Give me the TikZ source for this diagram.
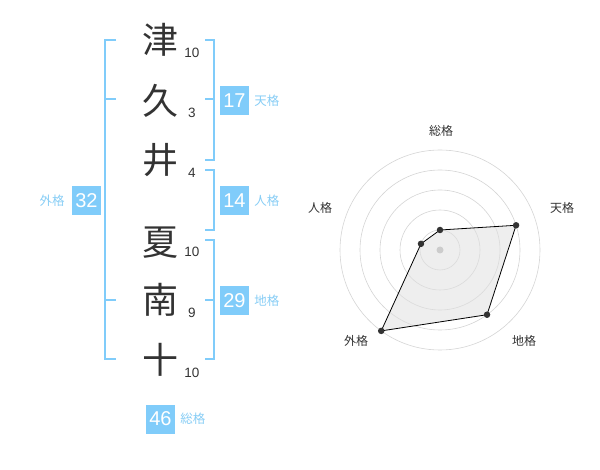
\documentclass[tikz,border=0pt]{standalone}
\usepackage{fontspec}
\setmainfont{Liberation Sans}
\newfontfamily\jpfont{Noto Sans CJK JP}
\usetikzlibrary{positioning}
\definecolor{kakublue}{RGB}{128,204,250}
\definecolor{kakutext}{RGB}{135,205,245}
\definecolor{inkgray}{RGB}{51,51,51}
\tikzset{%
    kanji/.style={font=\jpfont\fontsize{36}{36}\selectfont, text=inkgray, inner sep=0pt},
    strokes/.style={font=\fontsize{13.5}{13.5}\selectfont, text=inkgray, inner sep=0pt},
    kakubox/.style={fill=kakublue, text=white, minimum size=29pt, inner sep=0pt, font=\fontsize{20}{20}\selectfont},
    kakulabel/.style={text=kakutext, font=\jpfont\fontsize{12.5}{12.5}\selectfont, inner sep=0pt},
    bracket/.style={draw=kakublue, line width=2pt},
    axislabel/.style={text=inkgray, font=\jpfont\fontsize{12}{12}\selectfont, inner sep=0pt},
    ring/.style={draw=black!17, line width=0.6pt},
    dot/.style={circle, fill=inkgray, inner sep=0pt, minimum size=6.5pt}
}

\begin{document}
\begin{tikzpicture}[x=1pt, y=-1pt]
    \useasboundingbox (0,0) rectangle (600,470);

    % name, one character per row
    \node[kanji] (tsu) at (160,40) {津};
    \node[kanji] (ku) at (160,101) {久};
    \node[kanji] (i) at (160,160) {井};
    \node[kanji] (ka) at (160,243) {夏};
    \node[kanji] (na) at (160,300) {南};
    \node[kanji] (to) at (160,360) {十};

    \node[strokes] (s1) at (192,53) {10};
    \node[strokes] (s2) at (192,113) {3};
    \node[strokes] (s3) at (192,173) {4};
    \node[strokes] (s4) at (192,252) {10};
    \node[strokes] (s5) at (192,313) {9};
    \node[strokes] (s6) at (192,373) {10};

    % brackets
    \draw[bracket] (116,40) -- (105,40) -- (105,359) -- (116,359);
    \draw[bracket] (105,99) -- (116,99);
    \draw[bracket] (105,300) -- (116,300);
    \draw[bracket] (205,40) -- (214,40) -- (214,160) -- (205,160);
    \draw[bracket] (214,99) -- (205,99);
    \draw[bracket] (205,170) -- (214,170) -- (214,230) -- (205,230);
    \draw[bracket] (205,240) -- (214,240) -- (214,359) -- (205,359);
    \draw[bracket] (214,300) -- (205,300);

    % scores
    \node[kakubox] (ten) at (234.5,100.5) {17};
    \node[kakulabel, right=5pt of ten] (tenl) {天格};
    \node[kakubox] (jin) at (234.5,200.5) {14};
    \node[kakulabel, right=5pt of jin] (jinl) {人格};
    \node[kakubox] (chi) at (234.5,300.5) {29};
    \node[kakulabel, right=5pt of chi] (chil) {地格};
    \node[kakubox] (gai) at (86.5,200.5) {32};
    \node[kakulabel, left=7pt of gai] (gail) {外格};
    \node[kakubox] (so) at (160.5,419) {46};
    \node[kakulabel, right=5pt of so] (sol) {総格};

    % radar chart
    \coordinate (c) at (440,250);
    \foreach \r in {20,40,...,100}
        \draw[ring] (c) circle (\r);
    \path (c) ++(-90:20) coordinate (rso)
          (c) ++(-18:80) coordinate (rten)
          (c) ++(54:80) coordinate (rchi)
          (c) ++(126:100) coordinate (rgai)
          (c) ++(198:20) coordinate (rjin);
    \draw[fill=black!12, fill opacity=0.55, line width=0.8pt] (rso) -- (rten) -- (rchi) -- (rgai) -- (rjin) -- cycle;
    \fill[black!20] (c) circle (3.5);
    \foreach \p in {rso,rten,rchi,rgai,rjin}
        \node[dot] at (\p) {};

    \node[axislabel] (aso) at (441,131) {総格};
    \node[axislabel] (aten) at (562,208) {天格};
    \node[axislabel] (achi) at (524,341) {地格};
    \node[axislabel] (agai) at (356,341) {外格};
    \node[axislabel] (ajin) at (320,208) {人格};
\end{tikzpicture}
\end{document}
